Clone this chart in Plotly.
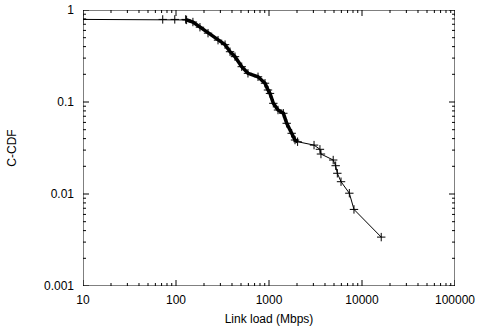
import math
import plotly.graph_objects as go

# Link load (Mbps) and complementary CDF values
load_mbps = [10, 72, 97, 127, 130, 152, 181, 221, 283, 337, 381, 431, 509, 594,
             762, 906, 975, 1025, 1113, 1250, 1426, 1550, 1753, 1905, 2030,
             3050, 3530, 3620, 4900, 5210, 5430, 5950, 7310, 8200, 16100]
ccdf = [0.79, 0.79, 0.79, 0.79, 0.78, 0.74, 0.65, 0.56, 0.47, 0.42, 0.352, 0.311,
        0.242, 0.205, 0.188, 0.160, 0.135, 0.124, 0.0968, 0.0818, 0.0754, 0.0587,
        0.0457, 0.0386, 0.037,
        0.034, 0.0306, 0.0272, 0.0234, 0.0203, 0.0168, 0.0136, 0.0102, 0.0068, 0.0034]

# the densely sampled part of the curve (drawn thicker, as overlapping markers)
dense_start, dense_end = 3, 25

x_ticks = [10, 100, 1000, 10000, 100000]
x_tick_text = ["10", "100", "1000", "10000", "100000"]
y_ticks = [0.001, 0.01, 0.1, 1]
y_tick_text = ["0.001", "0.01", "0.1", "1"]

x_minor = [m * d for d in (10, 100, 1000, 10000) for m in range(2, 10)]
y_minor = [m * d for d in (0.001, 0.01, 0.1) for m in range(2, 10)]

X_RANGE = [1, 5]   # log10
Y_RANGE = [-3, 0]  # log10

W, H = 479, 331
M = dict(l=83, r=24, t=10, b=45)
PW = W - M["l"] - M["r"]
PH = H - M["t"] - M["b"]


def xfrac(v):
    return (math.log10(v) - X_RANGE[0]) / (X_RANGE[1] - X_RANGE[0])


def yfrac(v):
    return (math.log10(v) - Y_RANGE[0]) / (Y_RANGE[1] - Y_RANGE[0])


# frame + inside tick marks on all four sides, drawn on a 0..1 helper axis pair
fx, fy = [0, 1, 1, 0, 0, None], [0, 0, 1, 1, 0, None]
for vals, length in ((x_ticks, 6), (x_minor, 3)):
    d = length / PH
    for v in vals:
        f = xfrac(v)
        fx += [f, f, None, f, f, None]
        fy += [0, d, None, 1, 1 - d, None]
for vals, length in ((y_ticks, 6), (y_minor, 3)):
    d = length / PW
    for v in vals:
        f = yfrac(v)
        fx += [0, d, None, 1, 1 - d, None]
        fy += [f, f, None, f, f, None]

fig = go.Figure()
fig.add_trace(go.Scatter(
    x=fx, y=fy, xaxis="x2", yaxis="y2", mode="lines",
    line=dict(color="black", width=1), hoverinfo="skip", showlegend=False,
    cliponaxis=False))
fig.add_trace(go.Scatter(
    x=load_mbps[dense_start:dense_end], y=ccdf[dense_start:dense_end],
    mode="lines", line=dict(color="black", width=3.5), hoverinfo="skip",
    showlegend=False))
fig.add_trace(go.Scatter(
    x=load_mbps, y=ccdf, mode="lines+markers",
    line=dict(color="black", width=1),
    marker=dict(symbol="cross-thin-open", size=6, color="black",
                line=dict(color="black", width=1)),
    showlegend=False))

font = dict(family="Liberation Sans, Arial, sans-serif", size=12, color="#000000")

fig.update_layout(
    width=W, height=H,
    margin=dict(**M, autoexpand=False),
    paper_bgcolor="#ffffff", plot_bgcolor="#ffffff",
    font=font,
    xaxis=dict(type="log", range=X_RANGE, tickmode="array", tickvals=x_ticks, ticktext=x_tick_text,
               showgrid=False, zeroline=False, showline=False, ticks="",
               tickfont=font, ticklabelstandoff=5,
               title=dict(text="Link load (Mbps)", standoff=8, font=font)),
    yaxis=dict(type="log", range=Y_RANGE, tickmode="array", tickvals=y_ticks, ticktext=y_tick_text,
               showgrid=False, zeroline=False, showline=False, ticks="",
               tickfont=font, ticklabelstandoff=8,
               title=dict(text="C-CDF", standoff=24, font=font)),
    xaxis2=dict(range=[0, 1], overlaying="x", anchor="y", visible=False, fixedrange=True),
    yaxis2=dict(range=[0, 1], overlaying="y", anchor="x", visible=False, fixedrange=True),
)

fig.write_html("out.html")
